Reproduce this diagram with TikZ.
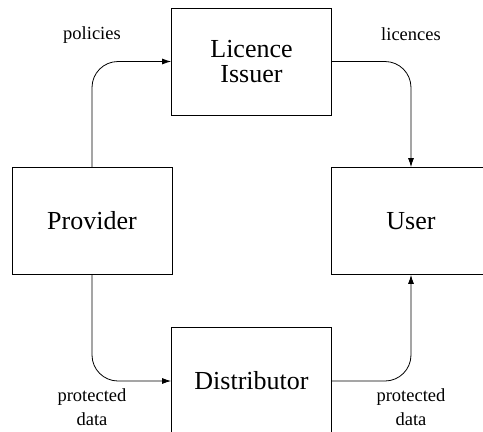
\documentclass[tikz,border=0pt]{standalone}
\usepackage{fontspec}
\newfontfamily\tms{Liberation Serif}
\usetikzlibrary{arrows.meta}
\begin{document}
\begin{tikzpicture}[x=1pt,y=-1pt,
  box/.style={draw, line width=0.8pt, minimum width=160pt, minimum height=107pt, inner sep=0pt, align=center, font=\tms\fontsize{26}{25}\selectfont},
  lbl/.style={align=center, inner sep=0pt, font=\tms\fontsize{18.5}{24}\selectfont},
  arr/.style={draw, line width=0.8pt, rounded corners=26pt, -{Latex[length=9pt,width=6pt]}}]
\useasboundingbox (0,0) rectangle (483,432);
\clip (0,0) rectangle (483,432);
\node[box] (li) at (251.5,61.5) {Licence\\Issuer};
\node[box] (prov) at (92,221) {Provider};
\node[box] (user) at (411,221) {User};
\node[box] (dist) at (251.5,381) {Distributor};
\draw[arr] (prov.north) |- (li.west);
\draw[arr] (li.east) -| (user.north);
\draw[arr] (prov.south) |- (dist.west);
\draw[arr] (dist.east) -| (user.south);
\node[lbl, anchor=base] (pol) at (92,39) {policies};
\node[lbl, anchor=base] (lic) at (411,40) {licences};
\node[lbl, anchor=base] (pd1) at (92,425) {protected\\data};
\node[lbl, anchor=base] (pd2) at (411,425) {protected\\data};
\end{tikzpicture}
\end{document}
